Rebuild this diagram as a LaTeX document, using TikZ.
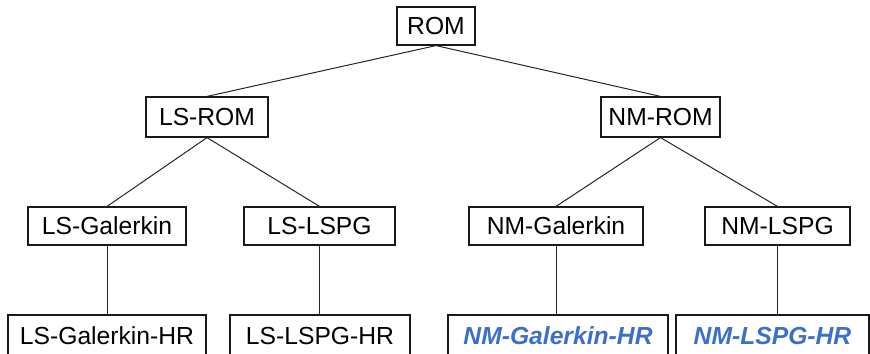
\documentclass[tikz,border=0pt]{standalone}
\usepackage{fontspec}
\setmainfont{Liberation Sans}
\definecolor{hrblue}{RGB}{60,110,205}
\begin{document}
\begin{tikzpicture}[x=0.75pt,y=-0.75pt,
  sz/.style 2 args={minimum width=#1*0.75pt, minimum height=#2*0.75pt},
  box/.style={draw=black!90, line width=0.9pt, inner sep=0pt, text=black,
    font=\fontsize{18.5}{21}\selectfont},
  hr/.style={box, text=hrblue, font=\fontsize{18.5}{21}\selectfont\bfseries\itshape},
  link/.style={draw=black!85, line width=0.75pt}]
\useasboundingbox (0,0) rectangle (870,353);
% level 1
\node[box, sz={78}{38}] (rom) at (436,26) {ROM};
% level 2
\node[box, sz={122}{40}] (lsrom) at (207,117) {LS-ROM};
\node[box, sz={119}{40}] (nmrom) at (660.5,117) {NM-ROM};
% level 3
\node[box, sz={158}{38}] (lsgal) at (107,226) {LS-Galerkin};
\node[box, sz={151}{38}] (lslspg) at (319.5,226) {LS-LSPG};
\node[box, sz={174}{38}] (nmgal) at (556,226) {NM-Galerkin};
\node[box, sz={145}{38}] (nmlspg) at (777.5,226) {NM-LSPG};
% level 4
\node[box, sz={198}{42}] (lsgalhr) at (107,336) {LS-Galerkin-HR};
\node[box, sz={180}{42}] (lslspghr) at (320,336) {LS-LSPG-HR};
\node[hr, sz={220}{42}] (nmgalhr) at (558,336) {NM-Galerkin-HR};
\node[hr, sz={193}{42}] (nmlspghr) at (772.5,336) {NM-LSPG-HR};
% connectors
\draw[link] (rom.south) -- (lsrom.north);
\draw[link] (rom.south) -- (nmrom.north);
\draw[link] (lsrom.south) -- (lsgal.north);
\draw[link] (lsrom.south) -- (lslspg.north);
\draw[link] (nmrom.south) -- (nmgal.north);
\draw[link] (nmrom.south) -- (nmlspg.north);
\draw[link] (lsgal.south) -- (lsgal.south |- lsgalhr.north);
\draw[link] (lslspg.south) -- (lslspg.south |- lslspghr.north);
\draw[link] (nmgal.south) -- (nmgal.south |- nmgalhr.north);
\draw[link] (nmlspg.south) -- (nmlspg.south |- nmlspghr.north);
\end{tikzpicture}
\end{document}
